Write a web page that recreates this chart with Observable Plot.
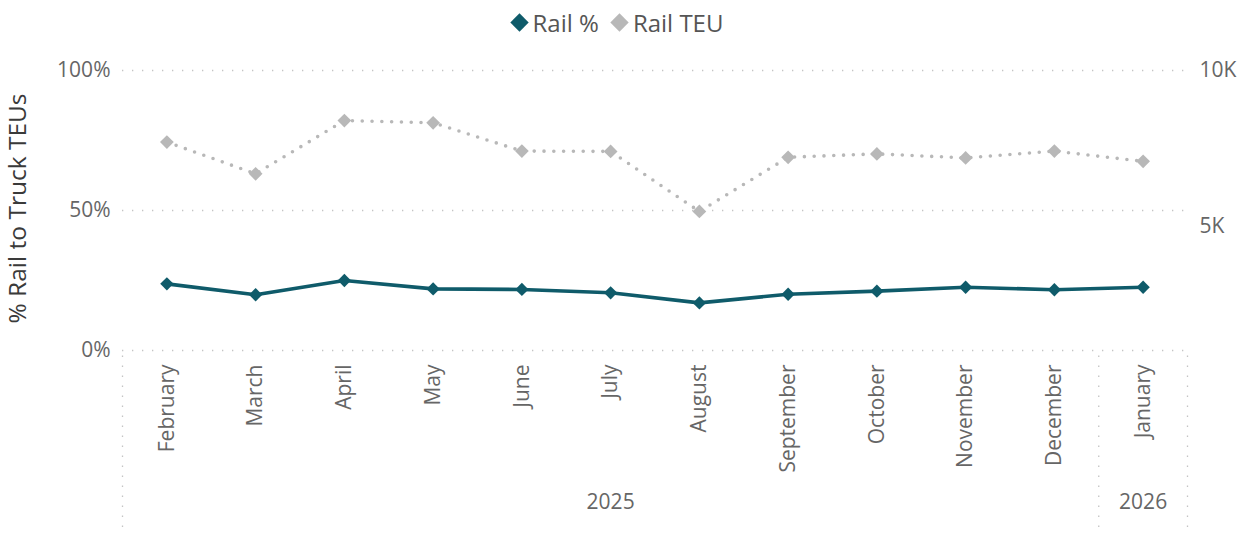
<!DOCTYPE html>
<html>
<head>
<meta charset="utf-8">
<script src="https://cdn.jsdelivr.net/npm/d3@7"></script>
<script src="https://cdn.jsdelivr.net/npm/@observablehq/plot@0.6"></script>
<style>
  html, body { margin: 0; padding: 0; background: #fff; }
  body { width: 1242px; height: 534px; overflow: hidden; font-family: "Open Sans", sans-serif; }
  #legend { height: 45px; display: flex; justify-content: center; align-items: center; gap: 14px; font-size: 24px; color: #555; padding-right: 6px; box-sizing: border-box; }
  .item { display: flex; align-items: center; gap: 7px; }
  .sw { width: 13px; height: 13px; transform: rotate(45deg); display: inline-block; }
</style>
</head>
<body>
<div id="legend"></div>
<div id="chart"></div>
<script>
const months = ["February","March","April","May","June","July","August","September","October","November","December","January"];
const years = ["2025","2025","2025","2025","2025","2025","2025","2025","2025","2025","2025","2026"];
const railPct = [0.238,0.199,0.250,0.220,0.218,0.206,0.170,0.201,0.212,0.226,0.217,0.226];
const railTEU = [7700,6680,8390,8320,7410,7400,5470,7210,7320,7190,7410,7080];
const leftTicks = [0, 0.5, 1];
const rightTicks = [5000, 10000];
const rightDomain = [1000, 10000];
const seriesNames = ["Rail %", "Rail TEU"];
const seriesColors = ["#0f5b6a", "#b8b8b8"];

// legend
const legend = document.getElementById("legend");
seriesNames.forEach((n, i) => {
  const it = document.createElement("div");
  it.className = "item";
  it.innerHTML = `<span class="sw" style="background:${seriesColors[i]}"></span><span>${n}</span>`;
  legend.appendChild(it);
});

const W = 1242, H = 489;
const mL = 122, mR = 55, mT = 25, mB = 184;
const bw = (W - mL - mR) / months.length;
const teuToY = d3.scaleLinear(rightDomain, [0, 1]);

const data = months.map((m, i) => ({month: m, year: years[i], pct: railPct[i], teu: teuToY(railTEU[i])}));
const yearLabels = [{month: "July", text: "2025"}, {month: "January", text: "2026"}];

const grid = {stroke: "#c4c4c4", strokeOpacity: 1, strokeWidth: 1.3, strokeDasharray: "1.3 8.7"};

const chart = Plot.plot({
  width: W, height: H,
  marginLeft: mL, marginRight: mR, marginTop: mT, marginBottom: mB,
  style: {fontFamily: "Open Sans, sans-serif", fontSize: "21px", color: "#666", background: "#fff", overflow: "visible"},
  x: {type: "band", domain: months, padding: 0, round: false},
  y: {domain: [0, 1]},
  marks: [
    Plot.ruleY(leftTicks, {...grid}),
    Plot.ruleX([months[0], "January"], {...grid, y1: -0.02, y2: -0.64, dx: -bw/2}),
    Plot.ruleX(["January"], {...grid, y1: -0.02, y2: -0.64, dx: bw/2}),
    Plot.axisY(leftTicks, {anchor: "left", tickFormat: d3.format(".0%"), tickSize: 0, tickPadding: 12, label: null, fontSize: 21, fill: "#666"}),
    Plot.axisY(rightTicks.map(teuToY), {anchor: "right", tickFormat: d => Math.round(teuToY.invert(d) / 1000) + "K", tickSize: 0, tickPadding: 12, label: null, fontSize: 21, fill: "#666"}),
    Plot.axisX({tickRotate: -90, tickSize: 0, tickPadding: 14, label: null, fontSize: 21, fill: "#666"}),
    Plot.text(yearLabels, {x: "month", text: "text", frameAnchor: "bottom", dy: 158, fontSize: 21, fill: "#666"}),
    Plot.text(["% Rail to Truck TEUs"], {frameAnchor: "left", textAnchor: "middle", rotate: -90, dx: -104, dy: -2, fontSize: 24.5, fill: "#3a3a3a"}),
    Plot.line(data, {x: "month", y: "teu", stroke: seriesColors[1], strokeWidth: 3.6, strokeDasharray: "0 9.8", strokeLinecap: "round"}),
    Plot.dot(data, {x: "month", y: "teu", symbol: "diamond2", r: 6.2, fill: seriesColors[1], stroke: "none"}),
    Plot.line(data, {x: "month", y: "pct", stroke: seriesColors[0], strokeWidth: 3.6}),
    Plot.dot(data, {x: "month", y: "pct", symbol: "diamond2", r: 6, fill: seriesColors[0], stroke: "none"})
  ]
});
document.getElementById("chart").appendChild(chart);
</script>
</body>
</html>
